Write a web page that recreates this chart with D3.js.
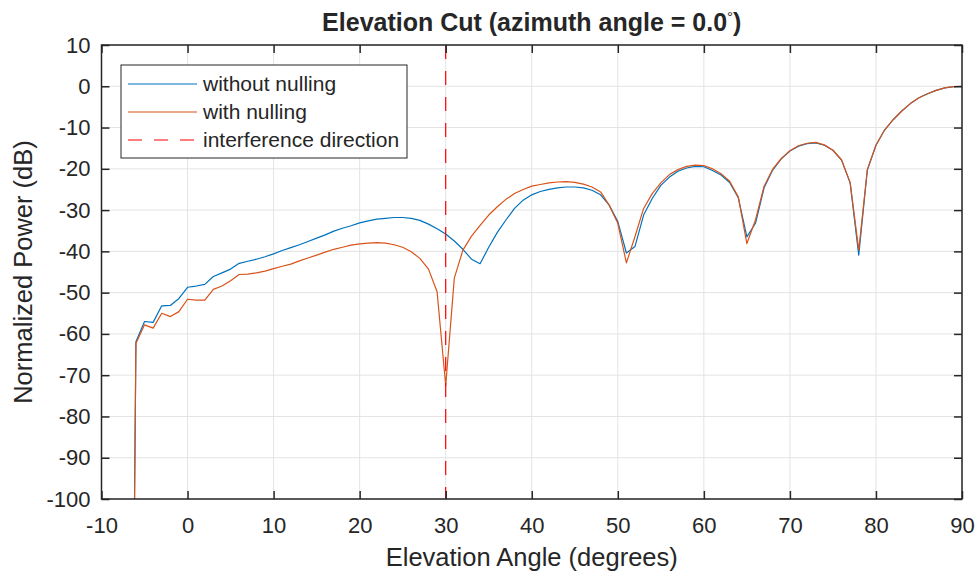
<!DOCTYPE html>
<html><head><meta charset="utf-8">
<script src="https://cdn.jsdelivr.net/npm/d3@7"></script>
<style>body{margin:0;background:#fff}svg{display:block}text{font-family:"Liberation Sans",Arial,sans-serif;fill:#262626}</style>
</head><body>
<svg id="c" width="979" height="573"></svg>
<script>
const angles = [-7,-6,-5,-4,-3,-2,-1,0,1,2,3,4,5,6,7,8,9,10,11,12,13,14,15,16,17,18,19,20,21,22,23,24,25,26,27,28,29,30,31,32,33,34,35,36,37,38,39,40,41,42,43,44,45,46,47,48,49,50,51,52,53,54,55,56,57,58,59,60,61,62,63,64,65,66,67,68,69,70,71,72,73,74,75,76,77,78,79,80,81,82,83,84,85,86,87,88,89,90];
const withoutNulling = [-300,-61.9,-57.0,-57.2,-53.2,-53.1,-51.4,-48.7,-48.4,-48.0,-46.1,-45.2,-44.3,-42.9,-42.4,-41.9,-41.3,-40.6,-39.8,-39.1,-38.4,-37.6,-36.8,-36.0,-35.1,-34.4,-33.8,-33.1,-32.6,-32.2,-32.0,-31.8,-31.8,-32.0,-32.5,-33.4,-34.5,-35.8,-37.5,-39.5,-41.9,-43.0,-39.0,-35.4,-32.4,-29.6,-27.6,-26.3,-25.5,-25.0,-24.6,-24.4,-24.4,-24.6,-25.2,-26.3,-28.8,-32.8,-40.4,-38.8,-31.2,-27.2,-24.0,-22.0,-20.6,-19.8,-19.4,-19.5,-20.4,-21.5,-23.3,-27.0,-36.5,-33.2,-24.6,-20.3,-17.6,-15.7,-14.5,-13.9,-13.7,-14.3,-15.5,-17.9,-23.4,-40.9,-20.3,-14.3,-10.6,-8.1,-6.0,-4.2,-2.8,-1.8,-1.0,-0.4,-0.1,0];
const withNulling = [-300,-62.3,-57.8,-58.6,-55.0,-55.8,-54.6,-51.6,-51.8,-51.8,-49.2,-48.4,-47.1,-45.6,-45.5,-45.2,-44.8,-44.2,-43.6,-43.1,-42.3,-41.6,-40.9,-40.2,-39.5,-39.0,-38.5,-38.2,-38.0,-37.9,-38.0,-38.4,-39.0,-40.1,-41.7,-44.3,-49.8,-72.5,-46.5,-39.7,-36.3,-33.7,-31.2,-29.2,-27.4,-26.0,-25.0,-24.2,-23.8,-23.4,-23.2,-23.1,-23.3,-23.7,-24.4,-25.6,-28.8,-33.2,-42.8,-36.4,-29.6,-26.0,-23.4,-21.4,-20.2,-19.4,-19.1,-19.2,-20.0,-21.2,-23.0,-26.8,-38.1,-32.4,-24.2,-20.1,-17.5,-15.6,-14.4,-13.8,-13.6,-14.2,-15.5,-17.8,-23.3,-39.7,-20.2,-14.3,-10.6,-8.1,-6.0,-4.2,-2.8,-1.8,-1.0,-0.4,-0.1,0];
const interferenceAngle = 30;
const xTicks = [-10,0,10,20,30,40,50,60,70,80,90];
const yTicks = [10,0,-10,-20,-30,-40,-50,-60,-70,-80,-90,-100];
const seriesNames = ["without nulling","with nulling","interference direction"];
const titleMain = "Elevation Cut (azimuth angle = 0.0";
const xLabel = "Elevation Angle (degrees)";
const yLabel = "Normalized Power (dB)";

const L=101.5,R=962,T=45,B=499;
const svg=d3.select("#c");
const x=d3.scaleLinear().domain([-10,90]).range([L,R]);
const y=d3.scaleLinear().domain([-100,10]).range([B,T]);
const axisCol="#262626", gridCol="#e3e3e3";
const blue="#0072BD", orange="#D95319", red="#FF0000";
const fmt=d=>String(d);

// grid
const g=svg.append("g");
g.selectAll(".gx").data(xTicks).join("line").attr("x1",d=>x(d)).attr("x2",d=>x(d)).attr("y1",T).attr("y2",B).attr("stroke",gridCol).attr("stroke-width",1);
g.selectAll(".gy").data(yTicks).join("line").attr("x1",L).attr("x2",R).attr("y1",d=>y(d)).attr("y2",d=>y(d)).attr("stroke",gridCol).attr("stroke-width",1);

svg.append("clipPath").attr("id","clip").append("rect").attr("x",L).attr("y",T).attr("width",R-L).attr("height",B-T);
const line=d3.line().x((d,i)=>x(angles[i])).y(d=>y(d));
const plot=svg.append("g").attr("clip-path","url(#clip)");
plot.append("path").attr("d",line(withoutNulling)).attr("fill","none").attr("stroke",blue).attr("stroke-width",1.2).attr("stroke-linejoin","round");
plot.append("path").attr("d",line(withNulling)).attr("fill","none").attr("stroke",orange).attr("stroke-width",1.2).attr("stroke-linejoin","round");
plot.append("line").attr("x1",x(interferenceAngle)).attr("x2",x(interferenceAngle)).attr("y1",y(10)).attr("y2",y(-100)).attr("stroke",red).attr("stroke-width",1.2).attr("stroke-dasharray","14,12");

// axes
const ax=svg.append("g");
ax.append("g").attr("transform",`translate(0,${B})`).call(d3.axisBottom(x).tickValues(xTicks).tickSize(-8).tickPadding(18).tickFormat(fmt));
ax.append("g").attr("transform",`translate(0,${T})`).call(d3.axisTop(x).tickValues(xTicks).tickSize(-8).tickFormat(""));
ax.append("g").attr("transform",`translate(${L},0)`).call(d3.axisLeft(y).tickValues(yTicks).tickSize(-8).tickPadding(11).tickFormat(fmt));
ax.append("g").attr("transform",`translate(${R},0)`).call(d3.axisRight(y).tickValues(yTicks).tickSize(-8).tickFormat(""));
ax.selectAll(".domain").remove();
ax.selectAll(".tick line").attr("stroke",axisCol).attr("stroke-width",1.5);
ax.selectAll(".tick text").attr("fill",axisCol).style("font-size","22px").style("font-family","'Liberation Sans',Arial,sans-serif");
ax.append("rect").attr("x",L).attr("y",T).attr("width",R-L).attr("height",B-T).attr("fill","none").attr("stroke",axisCol).attr("stroke-width",1.5);

// title
const tt=svg.append("text").attr("x",(L+R)/2).attr("y",31).attr("text-anchor","middle").style("font-size","25px").style("font-weight","bold").attr("fill","#000");
tt.append("tspan").text(titleMain);
tt.append("tspan").text("°").attr("dy",-9).style("font-size","15px").style("font-weight","normal");
tt.append("tspan").text(")").attr("dy",9);

svg.append("text").attr("x",(L+R)/2).attr("y",566).attr("text-anchor","middle").style("font-size","25.5px").text(xLabel);
svg.append("text").attr("transform",`translate(32,${(T+B)/2}) rotate(-90)`).attr("text-anchor","middle").style("font-size","25.5px").text(yLabel);

// legend
const lg=svg.append("g");
lg.append("rect").attr("x",121).attr("y",65).attr("width",286).attr("height",93).attr("fill","#fff").attr("stroke",axisCol).attr("stroke-width",1);
const cols=[blue,orange,red], dashes=[null,null,"14,12"];
seriesNames.forEach((n,i)=>{
  const yy=84+i*28;
  lg.append("line").attr("x1",128).attr("x2",197).attr("y1",yy).attr("y2",yy).attr("stroke",cols[i]).attr("stroke-width",1.2).attr("stroke-dasharray",dashes[i]);
  lg.append("text").attr("x",203).attr("y",yy+7).style("font-size","21px").attr("fill","#000").text(n);
});
</script>
</body></html>
